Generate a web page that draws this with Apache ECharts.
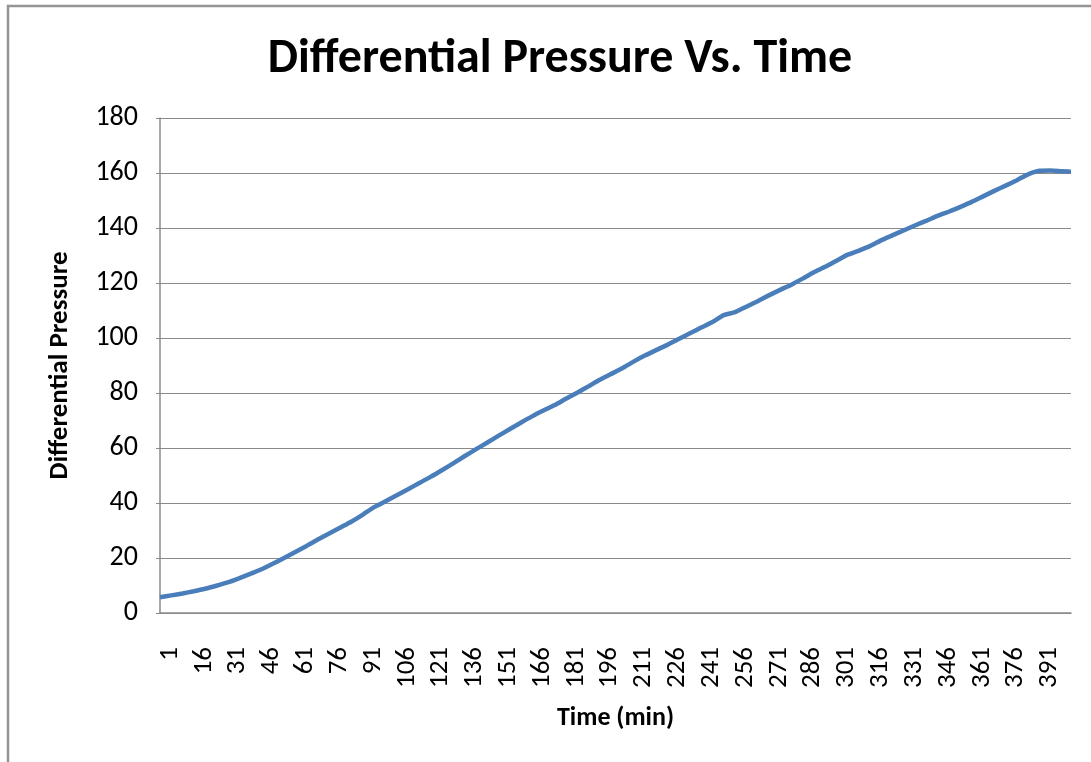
<!DOCTYPE html>
<html>
<head>
<meta charset="utf-8">
<title>Differential Pressure Vs. Time</title>
<script src="https://cdn.jsdelivr.net/npm/echarts@6/dist/echarts.min.js"></script>
<style>
  html, body { margin: 0; padding: 0; background: #ffffff; }
  #chart { width: 1091px; height: 762px; }
</style>
</head>
<body>
<div id="chart"></div>
<script>
// Time axis: one category per minute, 1 .. 405
const firstMinute = 1;
const lastMinute = 405;
const categories = [];
for (let m = firstMinute; m <= lastMinute; m++) categories.push(String(m));

// Sampled readings: minute and differential pressure
const minutes = [
  1, 6, 11, 16, 21, 26, 31, 36, 41, 46, 51, 56, 61, 66, 71, 76, 81, 86, 91, 96,
  101, 106, 111, 116, 121, 126, 131, 136, 141, 146, 151, 156, 161, 166, 171, 176, 181, 186, 191, 196,
  201, 206, 211, 216, 221, 226, 231, 236, 241, 246, 251, 256, 261, 266, 271, 276, 281, 286, 291, 296,
  301, 306, 311, 316, 321, 326, 331, 336, 341, 346, 351, 356, 361, 366, 371, 376, 381, 386, 391, 396,
  401, 405
];
const pressure = [
  5.7, 6.4, 7.1, 7.9, 8.8, 9.9, 11.1, 12.6, 14.2, 15.9, 17.9, 20.0, 22.2, 24.4, 26.7, 28.9, 31.1, 33.3, 35.8, 38.5,
  40.6, 42.8, 45.0, 47.3, 49.5, 51.9, 54.4, 57.0, 59.5, 61.9, 64.4, 66.8, 69.2, 71.5, 73.6, 75.6, 77.9, 80.1, 82.4, 84.8,
  86.9, 89.0, 91.4, 93.6, 95.6, 97.5, 99.6, 101.7, 103.8, 105.8, 108.3, 109.4, 111.4, 113.4, 115.5, 117.5, 119.4, 121.6, 123.9, 125.9,
  128.1, 130.3, 131.8, 133.5, 135.6, 137.4, 139.2, 141.0, 142.7, 144.5, 146.0, 147.7, 149.5, 151.5, 153.5, 155.4, 157.4, 159.5, 160.8, 160.9,
  160.6, 160.5
];

// Value axis ticks
const yTicks = [0, 20, 40, 60, 80, 100, 120, 140, 160, 180];
// Every 15th minute is labelled (1, 16, 31, ...)
const labelStep = 15;

const FONT = 'Carlito, Calibri, Lato, sans-serif';
const GRID_GRAY = '#8a8a8a';

const seriesData = minutes.map((m, i) => [m - firstMinute, pressure[i]]);

const chart = echarts.init(document.getElementById('chart'), null, { renderer: 'canvas' });
chart.setOption({
  backgroundColor: '#ffffff',
  animation: false,
  title: {
    text: 'Differential Pressure Vs. Time',
    left: 555,
    textAlign: 'center',
    top: 31,
    textStyle: { fontFamily: FONT, fontWeight: 'bold', fontSize: 48, color: '#000000' }
  },
  graphic: [{
    type: 'rect',
    shape: { x: 8, y: 6, width: 1200, height: 900 },
    style: { fill: 'none', stroke: '#949494', lineWidth: 2.5 },
    silent: true
  }],
  grid: { left: 160, right: 20, top: 118, bottom: 149, containLabel: false },
  xAxis: {
    type: 'category',
    data: categories,
    boundaryGap: false,
    name: 'Time (min)',
    nameLocation: 'middle',
    nameGap: 92,
    nameTextStyle: { fontFamily: FONT, fontWeight: 'bold', fontSize: 26, color: '#000000' },
    axisLine: { show: true, lineStyle: { color: GRID_GRAY, width: 1.5 } },
    axisTick: { show: false },
    splitLine: { show: false },
    axisLabel: {
      interval: labelStep - 1,
      rotate: 90,
      margin: 34,
      showMinLabel: true,
      // a thin spacer line beside each rotated label nudges the number right of its tick
      formatter: v => '{gap| }\n{num|' + v + '}',
      rich: {
        gap: { fontSize: 2, lineHeight: 20 },
        num: { fontFamily: FONT, fontSize: 27, color: '#000000', lineHeight: 1 }
      },
      fontFamily: FONT,
      fontSize: 27,
      color: '#000000'
    }
  },
  yAxis: {
    type: 'value',
    min: yTicks[0],
    max: yTicks[yTicks.length - 1],
    interval: yTicks[1] - yTicks[0],
    name: 'Differential Pressure',
    nameLocation: 'middle',
    nameGap: 86,
    nameRotate: 90,
    nameTextStyle: { fontFamily: FONT, fontWeight: 'bold', fontSize: 27, color: '#000000' },
    axisLine: { show: true, lineStyle: { color: GRID_GRAY, width: 1.5 } },
    axisTick: { show: true, length: 4, lineStyle: { color: GRID_GRAY } },
    splitLine: { show: true, lineStyle: { color: GRID_GRAY, width: 1.2 } },
    axisLabel: { margin: 22, fontFamily: FONT, fontSize: 28, color: '#000000' }
  },
  series: [{
    type: 'line',
    data: seriesData,
    showSymbol: false,
    smooth: 0.2,
    lineStyle: { color: '#4a7ebb', width: 4.5 },
    itemStyle: { color: '#4a7ebb' }
  }]
});
</script>
</body>
</html>
